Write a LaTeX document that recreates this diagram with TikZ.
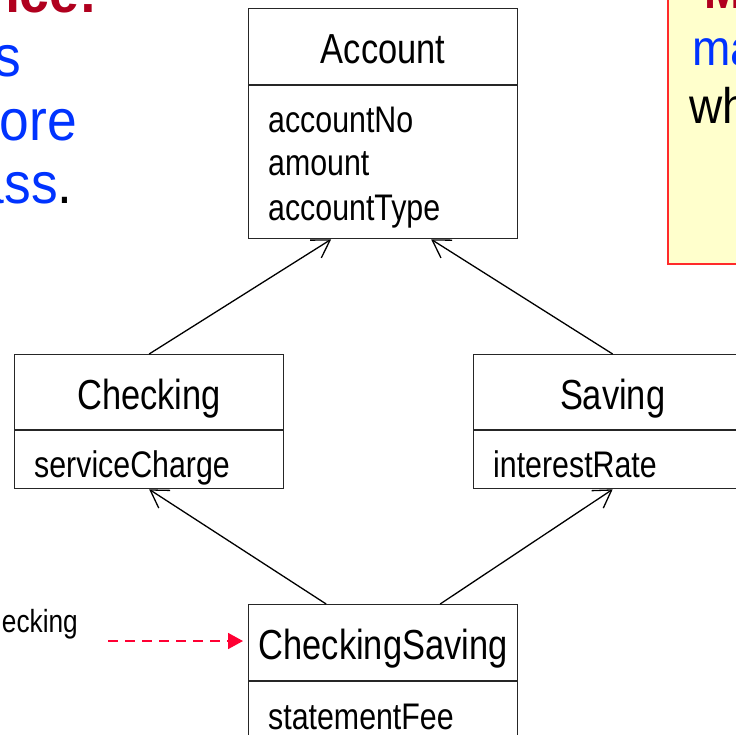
\documentclass[tikz,border=0pt]{standalone}
\usepackage{fontspec}
\setmainfont{Liberation Sans}
\newfontfamily\umlfont[FakeStretch=0.82]{Liberation Sans}
\newfontfamily\slidefont[FakeStretch=0.92]{Liberation Sans}
\usetikzlibrary{arrows.meta,calc}

\definecolor{slideblue}{HTML}{0033FF}
\definecolor{slidered}{HTML}{B0001E}
\definecolor{pointred}{HTML}{FF0033}
\definecolor{noteyellow}{HTML}{FFFFCC}
\definecolor{notered}{HTML}{FF2A2A}

\tikzset{
  classbox/.style={draw=black!85, line width=1.3pt, anchor=north west, inner sep=0pt},
  divider/.style={draw=black!85, line width=2pt},
  classname/.style={font=\umlfont\fontsize{42}{48}\selectfont, anchor=base, inner sep=0pt},
  attr/.style={font=\umlfont\fontsize{37}{42}\selectfont, anchor=base west, inner sep=0pt},
  inherit/.style={line width=1.3pt, -{Straight Barb[length=17pt,width=21pt]}},
  pointer/.style={pointred, line width=1.8pt, dash pattern=on 10pt off 7pt,
    -{Triangle[length=15pt,width=16pt]}},
  slidetext/.style={font=\slidefont\fontsize{58}{64}\selectfont, anchor=base east, inner sep=0pt},
  notetext/.style={font=\slidefont\fontsize{50}{56}\selectfont, anchor=base west, inner sep=0pt},
}

\begin{document}
\begin{tikzpicture}[x=1pt,y=-1pt]
  \useasboundingbox (0,0) rectangle (736,734);
  \clip (0,0) rectangle (736,734);

  % slide text on the left
  \node[slidetext, text=slidered] (txt0) at (97,12) {\bfseries nce:};
  \node[slidetext, text=slideblue] (txt1) at (21,76) {s};
  \node[slidetext, text=slideblue] (txt2) at (77,140) {ore};
  \node[slidetext] (txt3) at (73,203) {\textcolor{slideblue}{ass}.};

  % call-out box on the right
  \node[draw=notered, fill=noteyellow, line width=1.5pt, anchor=north west,
        minimum width=100pt, minimum height=300pt] (note) at (667,-37) {};
  \node[notetext, text=slidered] (note0) at (704,8) {\bfseries M};
  \node[notetext, text=slideblue] (note1) at (692,65) {ma};
  \node[notetext] (note2) at (689,123) {wh};

  % Account
  \node[classbox, minimum width=269pt, minimum height=230pt] (acc) at (248,8) {};
  \draw[divider] ([yshift=-77pt]acc.north west) -- ([yshift=-77pt]acc.north east);
  \node[classname] (accT) at ($(acc.north)+(0,55)$) {Account};
  \node[attr] (accA1) at (268,132) {accountNo};
  \node[attr] (accA2) at (268,175) {amount};
  \node[attr] (accA3) at (268,220) {accountType};

  % Checking
  \node[classbox, minimum width=269pt, minimum height=134pt] (chk) at (14,354) {};
  \draw[divider] ([yshift=-76pt]chk.north west) -- ([yshift=-76pt]chk.north east);
  \node[classname] (chkT) at ($(chk.north)+(0,55)$) {Checking};
  \node[attr] (chkA1) at (34,477) {serviceCharge};

  % Saving
  \node[classbox, minimum width=278pt, minimum height=134pt] (sav) at (473,354) {};
  \draw[divider] ([yshift=-76pt]sav.north west) -- ([yshift=-76pt]sav.north east);
  \node[classname] (savT) at ($(sav.north)+(0,55)$) {Saving};
  \node[attr] (savA1) at (493,477) {interestRate};

  % CheckingSaving
  \node[classbox, minimum width=269pt, minimum height=160pt] (cs) at (248,604) {};
  \draw[divider] ([yshift=-77pt]cs.north west) -- ([yshift=-77pt]cs.north east);
  \node[classname] (csT) at ($(cs.north)+(0,55)$) {CheckingSaving};
  \node[attr] (csA1) at (268,729) {statementFee};

  % generalisations
  \draw[inherit] (chk.north) -- ([xshift=-52pt]acc.south);
  \draw[inherit] (sav.north) -- ([xshift=48pt]acc.south);
  \draw[inherit] ([xshift=-57pt]cs.north) -- (chk.south);
  \draw[inherit] ([xshift=57pt]cs.north) -- (sav.south);

  % label and pointer at the bottom left
  \node[font=\umlfont\fontsize{32}{38}\selectfont, anchor=base east, inner sep=0pt]
    (lbl) at (78,632) {ecking};
  \coordinate (ptrstart) at (108,641);
  \draw[pointer] (ptrstart) -- ($(cs.north west)+(-5,37)$);
\end{tikzpicture}
\end{document}
